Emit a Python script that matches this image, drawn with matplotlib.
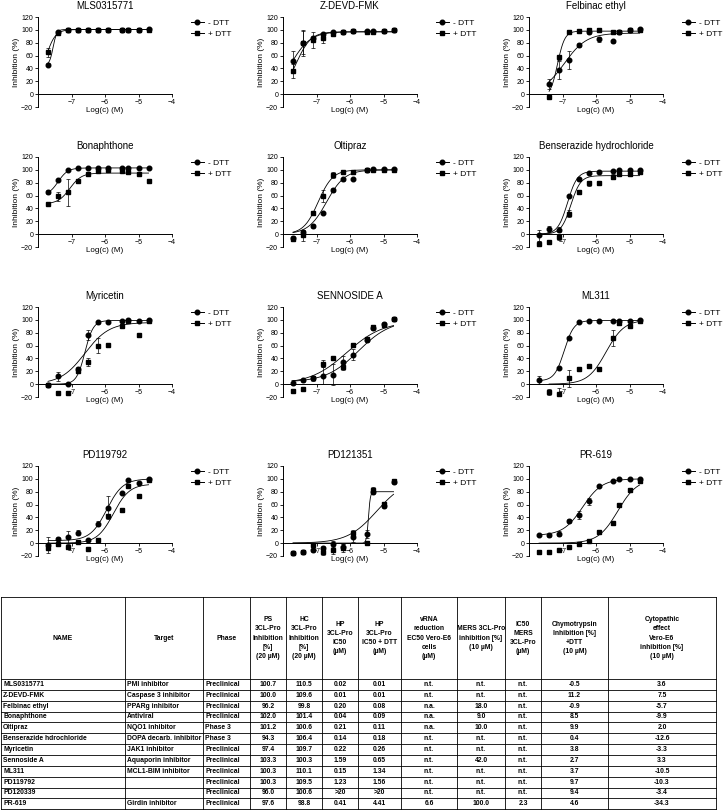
import numpy as np
import matplotlib.pyplot as plt
from matplotlib.lines import Line2D

plt.rcParams['font.family'] = ['Liberation Sans', 'DejaVu Sans']

# log concentration (M) of the 2-fold dilution series
log_c = [-7.7, -7.4, -7.1, -6.8, -6.5, -6.2, -5.9, -5.5, -5.3, -5.0, -4.7]

names = ["MLS0315771", "Z-DEVD-FMK", "Felbinac ethyl",
         "Bonaphthone", "Oltipraz", "Benserazide hydrochloride",
         "Myricetin", "SENNOSIDE A", "ML311",
         "PD119792", "PD121351", "PR-619"]

nan = np.nan
# mean inhibition (%) without DTT
minus_dtt = [
    [46, 96, 100, 100, 100, 100, 100, 100, 100, 100, 101],
    [52, 80, 88, 93, 96, 97, 98, 98, 98, 98, 99],
    [nan, 16, 37, 53, 77, 97, 85, 82, 96, 100, 101],
    [66, 84, 100, 103, 103, 103, 103, 103, 103, 103, 103],
    [-6, 4, 13, 33, 68, 85, 86, 99, 101, 102, 102],
    [-2, 8, 7, 59, 85, 95, 96, 98, 100, 99, 100],
    [-1, 12, 0, 23, 77, 96, 96, 99, 100, 99, 100],
    [2, 6, 9, 13, 15, 34, 46, 68, 87, 94, 101],
    [6, nan, 25, 72, 96, 98, 98, 99, 99, 99, 100],
    [-3, 7, 9, 16, 5, 30, 55, 78, 98, 93, 99],
    [-15, -14, -10, -8, -1, -6, 9, 14, 80, 58, 95],
    [13, 12, 15, 34, 44, 65, 89, 97, 100, 100, 99],
]
minus_err = [
    [2, 2, 1, 1, 1, 1, 1, 1, 1, 1, 1],
    [15, 20, 2, 2, 2, 1, 1, 1, 1, 1, 1],
    [0, 8, 14, 14, 3, 3, 4, 2, 2, 2, 2],
    [3, 2, 1, 1, 1, 1, 1, 1, 1, 1, 1],
    [3, 2, 3, 2, 3, 2, 2, 1, 1, 1, 1],
    [8, 5, 4, 2, 2, 1, 1, 1, 1, 1, 1],
    [2, 7, 2, 3, 8, 2, 1, 1, 1, 1, 1],
    [4, 2, 4, 13, 17, 10, 9, 3, 3, 2, 2],
    [6, 0, 2, 2, 1, 1, 1, 1, 1, 1, 1],
    [12, 2, 10, 4, 2, 4, 18, 2, 1, 1, 1],
    [2, 2, 3, 4, 5, 5, 7, 6, 4, 3, 3],
    [2, 3, 4, 3, 6, 5, 2, 1, 1, 1, 1],
]
# mean inhibition (%) with DTT
plus_dtt = [
    [65, 95, 100, 100, 100, 100, 100, 100, 100, 100, 100],
    [36, 80, 84, 87, 94, 97, 98, 97, 97, 98, 99],
    [nan, -5, 57, 96, 98, 99, 99, 97, 96, 99, 99],
    [47, 59, 65, 82, 93, 98, 99, 98, 96, 94, 83],
    [-7, -2, 33, 59, 92, 96, 96, 99, 100, 100, 100],
    [-16, -13, -5, 32, 65, 79, 80, 89, 93, 93, 96],
    [-1, -13, -13, 20, 35, 60, 61, 90, 98, 76, 99],
    [-10, -7, 9, 32, 41, 27, 61, 70, 89, 92, 102],
    [nan, -12, -16, 9, 23, 28, 23, 72, 95, 91, 99],
    [-8, -2, -6, 2, -9, 5, 43, 52, 89, 73, 98],
    [-15, -14, -3, -14, -11, -8, 16, 0, 83, 61, 97],
    [-14, -13, -11, -6, -1, 3, 18, 32, 60, 82, 96],
]
plus_err = [
    [7, 2, 1, 1, 1, 1, 1, 1, 1, 1, 1],
    [11, 18, 12, 8, 2, 1, 1, 1, 1, 1, 1],
    [0, 1, 4, 2, 2, 3, 2, 2, 2, 2, 2],
    [2, 7, 21, 2, 2, 2, 2, 2, 2, 2, 2],
    [3, 8, 2, 9, 4, 2, 2, 1, 1, 1, 1],
    [5, 2, 4, 5, 3, 4, 2, 4, 2, 2, 2],
    [2, 2, 2, 3, 6, 12, 2, 2, 2, 2, 2],
    [2, 2, 3, 6, 2, 5, 3, 3, 3, 2, 2],
    [0, 5, 10, 13, 2, 3, 2, 12, 3, 2, 2],
    [3, 2, 2, 2, 2, 2, 3, 3, 2, 2, 2],
    [2, 2, 3, 4, 6, 6, 4, 3, 4, 3, 3],
    [3, 2, 2, 2, 2, 2, 3, 3, 3, 2, 3],
]

# fitted 4PL curves: bottom, top, logIC50, hill
minus_fit = [
    (45, 100.5, -7.55, 8), (0, 97, -7.75, 1.5), (0, 95, -6.95, 1.3),
    (60, 103, -7.4, 3), (0, 100, -6.7, 1.6), (0, 98, -6.85, 3),
    (0, 99, -6.6, 3.5), (3, 100, -5.75, 0.9), (5, 99, -6.95, 3),
    (4, 100, -5.95, 1.8), (0, 80, -5.45, 15), (12, 100, -6.4, 1.5),
]
plus_fit = [
    (0, 100.5, -7.8, 3), (0, 97, -7.6, 2), (-5, 98, -7.15, 4),
    (47, 95, -7.05, 2.5), (0, 100, -6.95, 2.0), (0, 91, -6.75, 3),
    (0, 96, -6.6, 1.2), (0, 98, -6.1, 0.8), (0, 100, -5.7, 1.6),
    (0, 92, -5.75, 1.8), (0, 100, -5.2, 1.0), (0, 100, -5.35, 1.5),
]

# table
col_heads = ["NAME", "Target", "Phase",
             "PS\n3CL-Pro\nInhibition\n[%]\n(20 \u00b5M)",
             "HC\n3CL-Pro\nInhibition\n[%]\n(20 \u00b5M)",
             "HP\n3CL-Pro\nIC50\n(\u00b5M)",
             "HP\n3CL-Pro\nIC50 + DTT\n(\u00b5M)",
             "vRNA\nreduction\nEC50 Vero-E6\ncells\n(\u00b5M)",
             "MERS 3CL-Pro\ninhibition [%]\n(10 \u00b5M)",
             "IC50\nMERS\n3CL-Pro\n(\u00b5M)",
             "Chymotrypsin\nInhibition [%]\n+DTT\n(10 \u00b5M)",
             "Cytopathic\neffect\nVero-E6\ninhibition [%]\n(10 \u00b5M)"]
tbl_names = ["MLS0315771", "Z-DEVD-FMK", "Felbinac ethyl", "Bonaphthone",
             "Oltipraz", "Benserazide hdrochloride", "Myricetin",
             "Sennoside A", "ML311", "PD119792", "PD120339", "PR-619"]
tbl_target = ["PMI inhibitor", "Caspase 3 inhibitor", "PPARg inhibitor",
              "Antiviral", "NQO1 inhibitor", "DOPA decarb. inhibitor",
              "JAK1 inhibitor", "Aquaporin inhibitor", "MCL1-BIM inhibitor",
              "", "", "Girdin inhibitor"]
tbl_phase = ["Preclinical", "Preclinical", "Preclinical", "Preclinical",
             "Phase 3", "Phase 3", "Preclinical", "Preclinical",
             "Preclinical", "Preclinical", "Preclinical", "Preclinical"]
ps_inh = ["100.7", "100.0", "96.2", "102.0", "101.2", "94.3", "97.4",
          "103.3", "100.3", "100.3", "96.0", "97.6"]
hc_inh = ["110.5", "109.6", "99.8", "101.4", "100.6", "106.4", "109.7",
          "100.3", "110.1", "109.5", "100.6", "98.8"]
hp_ic50 = ["0.02", "0.01", "0.20", "0.04", "0.21", "0.14", "0.22", "1.59",
           "0.15", "1.23", ">20", "0.41"]
hp_ic50_dtt = ["0.01", "0.01", "0.08", "0.09", "0.11", "0.18", "0.26",
               "0.65", "1.34", "1.56", ">20", "4.41"]
vrna = ["n.t.", "n.t.", "n.a.", "n.a.", "n.a.", "n.t.", "n.t.", "n.t.",
        "n.t.", "n.t.", "n.t.", "6.6"]
mers_inh = ["n.t.", "n.t.", "18.0", "9.0", "10.0", "n.t.", "n.t.", "42.0",
            "n.t.", "n.t.", "n.t.", "100.0"]
mers_ic50 = ["n.t."] * 11 + ["2.3"]
chymo = ["-0.5", "11.2", "-0.9", "8.5", "9.9", "0.4", "3.8", "2.7", "3.7",
         "9.7", "9.4", "4.6"]
cpe = ["3.6", "7.5", "-5.7", "-9.9", "2.0", "-12.6", "-3.3", "3.3",
       "-10.5", "-10.3", "-3.4", "-34.3"]

W, H = 727, 810
fig = plt.figure(figsize=(W / 100, H / 100), dpi=100)

lefts = [38, 283, 529]
tops = [17, 157, 307, 466]
aw, ah = 134, 90

for i, name in enumerate(names):
    r, c = divmod(i, 3)
    ax = fig.add_axes([lefts[c] / W, 1 - (tops[r] + ah) / H, aw / W, ah / H])
    for vals, errs, fit, mk in [(minus_dtt[i], minus_err[i], minus_fit[i], 'o'),
                                (plus_dtt[i], plus_err[i], plus_fit[i], 's')]:
        x = np.array(log_c)
        y = np.array(vals, dtype=float)
        ax.errorbar(x, y, yerr=errs, fmt=mk, color='black', ms=3.3,
                    elinewidth=0.5, capsize=1.5, capthick=0.5, zorder=3)
        bot, top, ic, hill = fit
        xs = np.linspace(x[~np.isnan(y)][0], x[-1], 300)
        ys = bot + (top - bot) / (1 + 10 ** ((ic - xs) * hill))
        ax.plot(xs, ys, color='black', lw=0.6, zorder=2)
    ax.set_xlim(-8, -4)
    ax.set_ylim(-20, 120)
    for s in ['top', 'right']:
        ax.spines[s].set_visible(False)
    ax.spines['bottom'].set_position(('data', 0))
    ax.spines['left'].set_bounds(-20, 120)
    for s in ['bottom', 'left']:
        ax.spines[s].set_linewidth(0.7)
    ax.set_xticks([-7, -6, -5, -4])
    ax.set_yticks(range(-20, 121, 20))
    ax.tick_params(length=2.5, width=0.6, labelsize=5, pad=1)
    ax.set_title(name, fontsize=7, pad=6)
    ax.set_ylabel("Inhibition (%)", fontsize=6, labelpad=1)
    ax.set_xlabel("Log(c) (M)", fontsize=5.8, labelpad=1)
    handles = [Line2D([], [], color='black', lw=0.7, marker='o', ms=3.3),
               Line2D([], [], color='black', lw=0.7, marker='s', ms=3.3)]
    ax.legend(handles, ["- DTT", "+ DTT"], loc='upper left',
              bbox_to_anchor=(1.14, 0.98), frameon=False, fontsize=6,
              handlelength=1.6, handletextpad=0.5, labelspacing=0.45,
              borderaxespad=0, borderpad=0)

# table drawn in pixel coordinates
tax = fig.add_axes([0, 0, 1, 1])
tax.set_xlim(0, W)
tax.set_ylim(H, 0)
tax.axis('off')

col_x = [1, 125, 203, 250, 286, 322, 358, 401, 457, 505, 541, 608, 716]
t_top, head_bot, row_h = 597, 679, 10.85
n_rows = len(tbl_names)
t_bot = head_bot + row_h * n_rows

for xv in col_x:
    tax.plot([xv, xv], [t_top, t_bot], color='black', lw=0.6)
for yv in [t_top, head_bot] + [head_bot + row_h * k for k in range(1, n_rows + 1)]:
    tax.plot([col_x[0], col_x[-1]], [yv, yv], color='black', lw=0.6)

for j, head in enumerate(col_heads):
    xc = (col_x[j] + col_x[j + 1]) / 2
    tax.text(xc, (t_top + head_bot) / 2, head, ha='center', va='center',
             fontsize=4.9, fontweight='bold', linespacing=1.45)

columns = [tbl_names, tbl_target, tbl_phase, ps_inh, hc_inh, hp_ic50,
           hp_ic50_dtt, vrna, mers_inh, mers_ic50, chymo, cpe]
for j, col in enumerate(columns):
    for k, val in enumerate(col):
        yc = head_bot + row_h * (k + 0.5)
        if j < 3:
            tax.text(col_x[j] + 2, yc, val, ha='left', va='center',
                     fontsize=4.9, fontweight='bold')
        else:
            tax.text((col_x[j] + col_x[j + 1]) / 2, yc, val, ha='center',
                     va='center', fontsize=4.9, fontweight='bold')

fig.savefig("out.png", dpi=100)
